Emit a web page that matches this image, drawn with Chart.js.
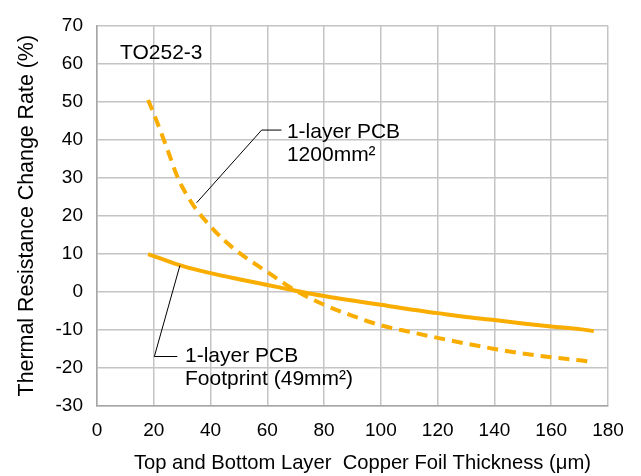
<!DOCTYPE html>
<html>
<head>
<meta charset="utf-8">
<script src="https://cdn.jsdelivr.net/npm/chart.js@4.4.1/dist/chart.umd.min.js"></script>
<style>
  html, body { margin: 0; padding: 0; background: #fff; }
  #chart { display: block; }
</style>
</head>
<body>
<canvas id="chart" width="641" height="476"></canvas>
<script>
// Copper thickness (um) and resistance change (%)
const thicknessSolid = [18, 20, 30, 40, 50, 60, 70, 80, 90, 100, 110, 120, 130, 140, 150, 160, 170, 175];
const footprintRate = [9.9, 9.4, 6.8, 4.9, 3.3, 1.8, 0.3, -1.1, -2.3, -3.4, -4.6, -5.6, -6.6, -7.4, -8.3, -9.1, -9.8, -10.3];

const thicknessDashed = [18, 20, 23, 25, 28, 30, 33, 35, 40, 45, 50, 60, 70, 80, 90, 100, 110, 120, 130, 140, 150, 160, 170, 173];
const pcb1200Rate = [50.4, 46.8, 41, 37, 30.8, 27.6, 23.8, 21.6, 17.2, 13.4, 10.3, 5.2, 0.3, -3.4, -6.3, -8.8, -10.5, -12.1, -13.6, -15.0, -16.2, -17.2, -18.0, -18.3];

const xTickLabels = [0, 20, 40, 60, 80, 100, 120, 140, 160, 180];
const yTickLabels = [-30, -20, -10, 0, 10, 20, 30, 40, 50, 60, 70];

const ORANGE = '#f9ad00';
const FONT = "'Liberation Sans', Arial, sans-serif";

const toPoints = (xs, ys) => xs.map((x, i) => ({ x: x, y: ys[i] }));

// callout texts and leader lines, in data units
const notes = [
  { lines: [[35.1, 23.4], [58, 42.5], [65, 42.5]], text: [['1-layer PCB', 66.9, 40.5], ['1200mm²', 66.9, 34.4]] },
  { lines: [[29.2, 6.9], [20.2, -17], [28.3, -17]], text: [['1-layer PCB', 31, -18.5], ['Footprint (49mm²)', 31, -24.5]] }
];

const annotate = {
  id: 'annotate',
  afterDatasetsDraw(chart) {
    const { ctx, scales: { x, y } } = chart;
    ctx.save();
    ctx.fillStyle = '#000';
    ctx.font = '21px ' + FONT;
    ctx.textBaseline = 'alphabetic';
    ctx.fillText('TO252-3', x.getPixelForValue(8.1), y.getPixelForValue(61.3));
    notes.forEach(n => {
      ctx.beginPath();
      ctx.strokeStyle = '#000';
      ctx.lineWidth = 1;
      n.lines.forEach((p, i) => {
        const px = x.getPixelForValue(p[0]), py = y.getPixelForValue(p[1]);
        if (i === 0) ctx.moveTo(px, py); else ctx.lineTo(px, py);
      });
      ctx.stroke();
      n.text.forEach(t => ctx.fillText(t[0], x.getPixelForValue(t[1]), y.getPixelForValue(t[2])));
    });

    // x axis title sits a little right of the plot centre
    ctx.font = '20.2px ' + FONT;
    ctx.textAlign = 'center';
    ctx.fillText('Top and Bottom Layer  Copper Foil Thickness (μm)', x.getPixelForValue(93.5), chart.height - 7);
    ctx.restore();
  }
};

new Chart(document.getElementById('chart'), {
  type: 'line',
  data: {
    datasets: [
      {
        label: '1-layer PCB 1200mm2',
        data: toPoints(thicknessDashed, pcb1200Rate),
        borderColor: ORANGE,
        borderWidth: 4,
        borderDash: [11, 7],
        pointRadius: 0,
        cubicInterpolationMode: 'monotone',
        fill: false
      },
      {
        label: '1-layer PCB Footprint',
        data: toPoints(thicknessSolid, footprintRate),
        borderColor: ORANGE,
        borderWidth: 4,
        pointRadius: 0,
        cubicInterpolationMode: 'monotone',
        fill: false
      }
    ]
  },
  options: {
    responsive: false,
    animation: false,
    layout: { padding: { top: 19, right: 33, left: 0, bottom: 0 } },
    plugins: { legend: { display: false }, tooltip: { enabled: false } },
    scales: {
      x: {
        type: 'linear',
        min: 0,
        max: 180,
        afterFit: s => { s.height = 70; },
        ticks: {
          stepSize: 10,
          padding: 13,
          color: '#000',
          font: { family: FONT, size: 19 },
          maxRotation: 0,
          callback: v => xTickLabels.includes(v) ? v : ''
        },
        grid: { color: '#c4c4c4', lineWidth: 1.5, drawTicks: false },
        border: { color: '#a6a6a6', width: 1.5 }
      },
      y: {
        min: -30,
        max: 70,
        afterFit: s => { s.width = 97; },
        ticks: {
          stepSize: 5,
          padding: 14,
          color: '#000',
          font: { family: FONT, size: 19 },
          callback: v => yTickLabels.includes(v) ? v : ''
        },
        grid: { color: '#c4c4c4', lineWidth: 1.5, drawTicks: false },
        border: { color: '#a6a6a6', width: 1.5 },
        title: {
          display: true,
          text: 'Thermal Resistance Change Rate (%)',
          color: '#000',
          font: { family: FONT, size: 21.4 },
          padding: { top: 14, bottom: 0 }
        }
      }
    }
  },
  plugins: [annotate]
});
</script>
</body>
</html>
